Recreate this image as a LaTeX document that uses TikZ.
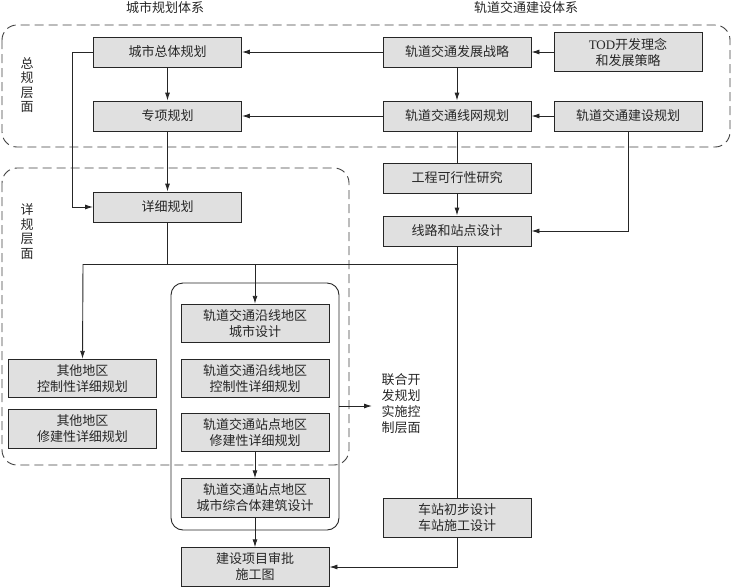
\documentclass[tikz,border=0pt]{standalone}
\usepackage{fontspec}
\setmainfont{Liberation Serif}
\newfontfamily\cjk{Noto Sans CJK SC}
\usetikzlibrary{arrows.meta}
\begin{document}
\begin{tikzpicture}[x=1pt,y=-1pt,
  txt/.style={font=\cjk\fontsize{13}{16}\selectfont, text=black!85},
  box/.style={txt, draw=black!85, fill=gray!24, line width=0.9pt, align=center, inner sep=0pt, minimum width=148pt},
  b30/.style={box, minimum height=30pt},
  b38/.style={box, minimum height=38.5pt},
  conn/.style={draw=black!85, line width=0.9pt},
  arr/.style={conn, -{Latex[length=8pt,width=5pt]}},
  zone/.style={draw=black!75, line width=0.9pt, dash pattern=on 9pt off 5pt, rounded corners=15pt},
  vlab/.style={txt, align=center, inner sep=0pt}
]
\useasboundingbox (0,0) rectangle (731,587);
% zones
\draw[zone] (2,25) rectangle (730,147);
\draw[zone] (2,168) rectangle (349,465);
\draw[conn, rounded corners=12pt] (171,283) rectangle (339,530);
\coordinate (zoneE) at (339,406);
\coordinate (zoneT) at (372,406);
% headers
\node[txt] (h1) at (165,8) {城市规划体系};
\node[txt] (h2) at (526,8) {轨道交通建设体系};
\node[vlab, font=\cjk\fontsize{13}{14.5}\selectfont] (v1) at (27,85) {总\\规\\层\\面};
\node[vlab, font=\cjk\fontsize{13}{14.5}\selectfont] (v2) at (27,231.5) {详\\规\\层\\面};
\node[vlab] (v3) at (401,404) {联合开\\发规划\\实施控\\制层面};
% boxes
\node[b30] (zt) at (167.5,52) {城市总体规划};
\node[b30] (zx) at (167.5,116) {专项规划};
\node[b30] (fz) at (457,52) {轨道交通发展战略};
\node[b38] (tod) at (628,52) {{\fontspec{Liberation Serif}TOD}开发理念\\和发展策略};
\node[b30] (xw) at (457,116) {轨道交通线网规划};
\node[b30] (js) at (628,116) {轨道交通建设规划};
\node[b30] (gc) at (457,178) {工程可行性研究};
\node[b30] (xl) at (457,231) {线路和站点设计};
\node[b30] (xx) at (167.5,207) {详细规划};
\node[b38] (qk) at (82.5,378.5) {其他地区\\控制性详细规划};
\node[b38] (qx) at (82.5,429) {其他地区\\修建性详细规划};
\node[b38] (a1) at (255,323.5) {轨道交通沿线地区\\城市设计};
\node[b38] (a2) at (255,378.5) {轨道交通沿线地区\\控制性详细规划};
\node[b38] (a3) at (255,432.5) {轨道交通站点地区\\修建性详细规划};
\node[b38] (a4) at (255,498) {轨道交通站点地区\\城市综合体建筑设计};
\node[b38] (sp) at (255,567) {建设项目审批\\施工图};
\node[b38] (cz) at (457,518) {车站初步设计\\车站施工设计};
% helper coordinates
\coordinate (lk) at (72,52);
\coordinate (hl) at (83,264);
\coordinate (hm) at (167.5,264);
\coordinate (hr) at (457,264);
\coordinate (ha) at (255,264);
\coordinate (cb) at (457,567);
% connectors
\draw[arr] (tod.west) -- (fz.east);
\draw[arr] (fz.west) -- (zt.east);
\draw[arr] (zt.south) -- (zx.north);
\draw[arr] (fz.south) -- (xw.north);
\draw[arr] (js.west) -- (xw.east);
\draw[arr] (xw.west) -- (zx.east);
\draw[arr] (zt.west) -- (lk) |- (xx.west);
\draw[arr] (zx.south) -- (xx.north);
\draw[conn] (xw.south) -- (gc.north);
\draw[arr] (gc.south) -- (xl.north);
\draw[arr] (js.south) |- (xl.east);
\draw[conn] (xx.south) -- (hm);
\draw[conn] (hl) -- (hr);
\draw[arr] (hl) -- (qk.north);
\draw[arr] (ha) -- (a1.north);
\draw[conn] (xl.south) -- (cz.north);
\draw[arr] (a3.south) -- (a4.north);
\draw[arr] (a4.south) -- (sp.north);
\draw[arr] (cz.south) -- (cb) -- (sp.east);
\draw[arr] (zoneE) -- (zoneT);
\end{tikzpicture}
\end{document}
